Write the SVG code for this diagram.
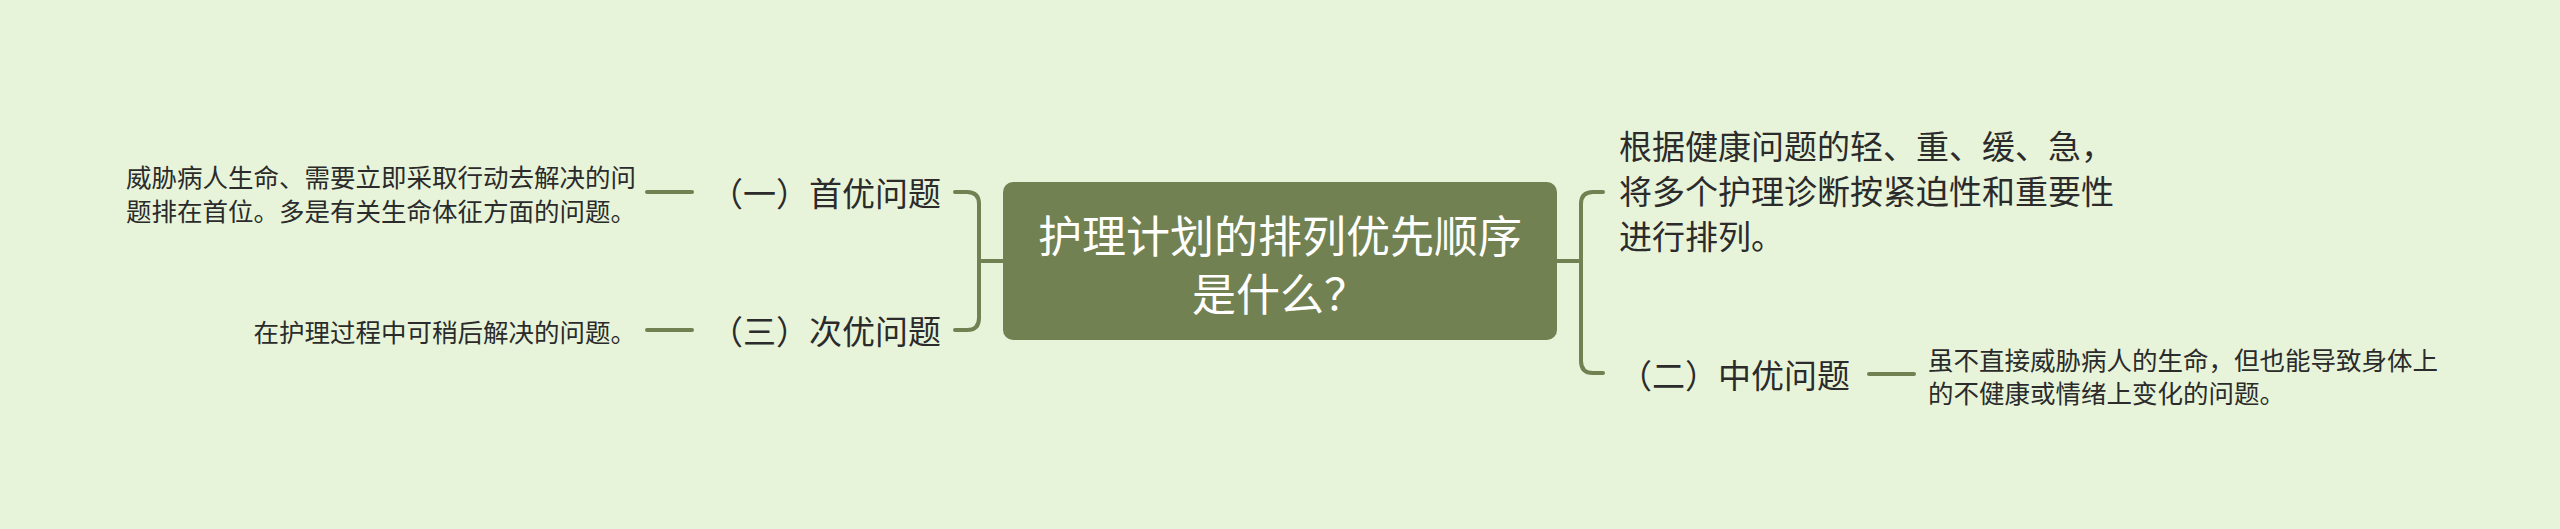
<svg xmlns="http://www.w3.org/2000/svg" width="2560" height="529" viewBox="0 0 2560 529">
<style>
text{font-family:"Noto Sans CJK SC","Noto Sans",sans-serif;dominant-baseline:central;}
.c{fill:#ffffff;font-size:44px;text-anchor:middle;}
.m{fill:#2b2b2b;font-size:33px;}
.l{fill:#2b2b2b;font-size:25.5px;}
.e{text-anchor:end;}
.ln{fill:none;stroke:#728152;stroke-width:4;stroke-linecap:round;}
</style>
<rect width="2560" height="529" fill="#e8f4da"/>
<g id="connectors">
<path class="ln" d="M1003,261 H979 M955,192 H967 Q979,192 979,204 V318 Q979,330 967,330 H955"/>
<path class="ln" d="M1557,261 H1581 M1603,192 H1593 Q1581,192 1581,204 V361 Q1581,373 1593,373 H1603"/>
<path class="ln" d="M647,192 H692"/>
<path class="ln" d="M647,330 H692"/>
<path class="ln" d="M1869,374 H1914"/>
</g>
<g id="center">
<rect x="1003" y="182" width="554" height="158" rx="10" fill="#728152"/>
<text class="c" x="1280" y="234">护理计划的排列优先顺序</text>
<text class="c" x="1280" y="292">是什么？</text>
</g>
<g id="n1">
<text class="m e" x="941" y="192">（一）首优问题</text>
</g>
<g id="n1leaf">
<text class="l e" x="636" y="175">威胁病人生命、需要立即采取行动去解决的问</text>
<text class="l e" x="636" y="209">题排在首位。多是有关生命体征方面的问题。</text>
</g>
<g id="n3">
<text class="m e" x="941" y="330">（三）次优问题</text>
</g>
<g id="n3leaf">
<text class="l e" x="636" y="330">在护理过程中可稍后解决的问题。</text>
</g>
<g id="rtop">
<text class="m" x="1619" y="145">根据健康问题的轻、重、缓、急，</text>
<text class="m" x="1619" y="190">将多个护理诊断按紧迫性和重要性</text>
<text class="m" x="1619" y="235">进行排列。</text>
</g>
<g id="n2">
<text class="m" x="1619" y="374">（二）中优问题</text>
</g>
<g id="n2leaf">
<text class="l" x="1928" y="358">虽不直接威胁病人的生命，但也能导致身体上</text>
<text class="l" x="1928" y="391">的不健康或情绪上变化的问题。</text>
</g>
</svg>
